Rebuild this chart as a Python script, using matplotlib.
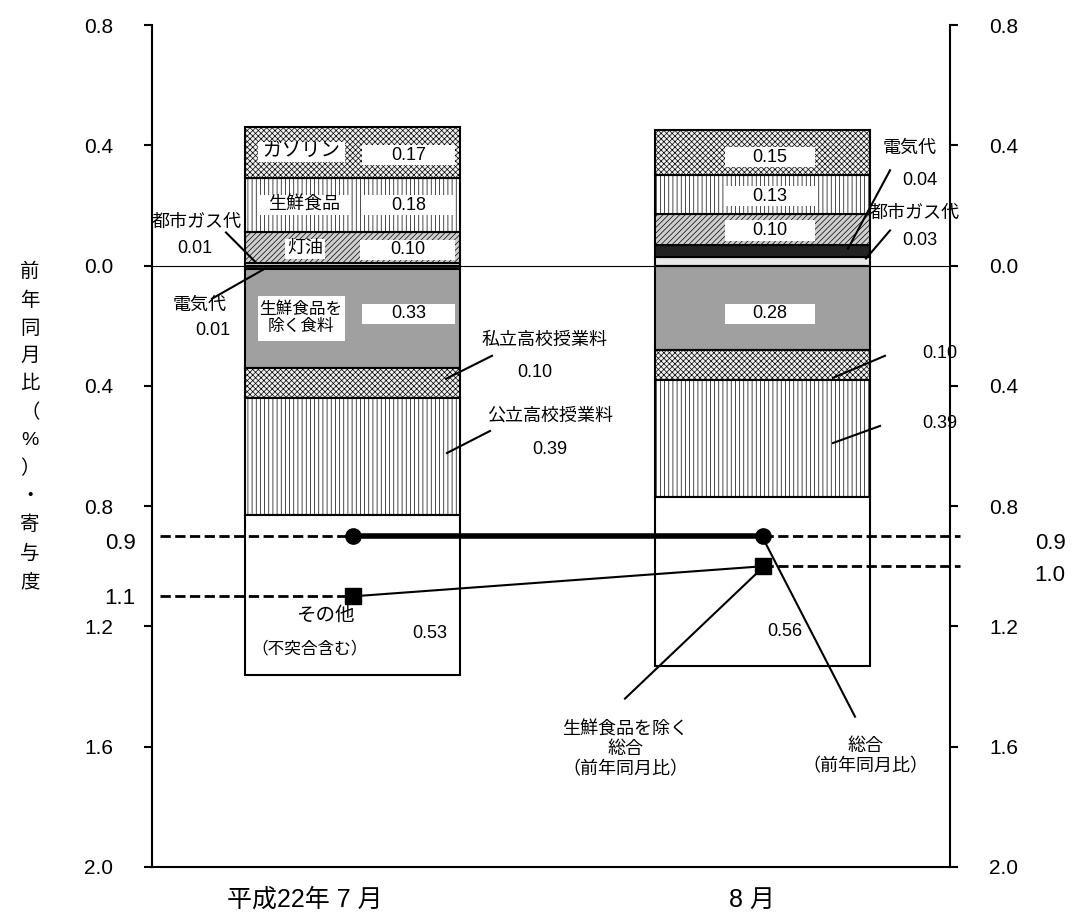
import matplotlib
matplotlib.use("Agg")
import matplotlib.pyplot as plt

plt.rcParams['font.family'] = ['Liberation Sans', 'Noto Sans CJK JP', 'DejaVu Sans']
plt.rcParams['hatch.linewidth'] = 0.5

periods = ["平成22年 7 月", "8 月"]
# stacked components (positive up, negative down), from zero outward
pos_names = ["都市ガス代", "電気代", "灯油", "生鮮食品", "ガソリン"]
pos_m7 = [0.01, 0.00, 0.10, 0.18, 0.17]
pos_m8 = [0.03, 0.04, 0.10, 0.13, 0.15]
neg_names = ["電気代", "生鮮食品を除く食料", "私立高校授業料", "公立高校授業料", "その他"]
neg_m7 = [-0.01, -0.33, -0.10, -0.39, -0.53]
neg_m8 = [0.00, -0.28, -0.10, -0.39, -0.56]
sogo = [-0.90, -0.90]
core = [-1.10, -1.00]

styles = {
    "都市ガス代": dict(color="#e8e8e8", hatch=None),
    "電気代": dict(color="#222222", hatch=None),
    "灯油": dict(color="#cfcfcf", hatch="//////"),
    "生鮮食品": dict(color="white", hatch="||||"),
    "ガソリン": dict(color="#f0f0f0", hatch="xxxxxx"),
    "生鮮食品を除く食料": dict(color="#a0a0a0", hatch=None),
    "私立高校授業料": dict(color="#f0f0f0", hatch="xxxxxx"),
    "公立高校授業料": dict(color="white", hatch="||||"),
    "その他": dict(color="white", hatch=None),
}

fig = plt.figure(figsize=(10.74, 9.23), dpi=100)
ax = fig.add_axes([152/1074, 1-867/923, 798/1074, (867-25)/923])
ax.set_xlim(152, 950)
ax.set_ylim(-2.0, 0.8)

def Y(py):
    return (265 - py) / 300.0

centers = [352.5, 762.5]
W = 215
for xc, pv, nv in zip(centers, [pos_m7, pos_m8], [neg_m7, neg_m8]):
    b = 0
    for n, v in zip(pos_names, pv):
        if v:
            st = styles[n]
            ax.bar(xc, v, W, bottom=b, color=st["color"], hatch=st["hatch"], edgecolor="black", linewidth=1.5)
        b += v
    b = 0
    for n, v in zip(neg_names, nv):
        if v:
            st = styles[n]
            ax.bar(xc, v, W, bottom=b, color=st["color"], hatch=st["hatch"], edgecolor="black", linewidth=1.5)
        b += v

ax.axhline(0, color="black", lw=0.8, zorder=1)
ax.plot(centers, sogo, color="black", lw=4, marker="o", ms=11, zorder=5)
ax.plot(centers, core, color="black", lw=1.5, marker="s", ms=11, zorder=5)
ax.plot([160, centers[0]], [sogo[0]]*2, 'k--', lw=2, zorder=4)
ax.plot([160, centers[0]], [core[0]]*2, 'k--', lw=2, zorder=4)
ax.plot([centers[1], 960], [sogo[1]]*2, 'k--', lw=2, zorder=4, clip_on=False)
ax.plot([centers[1], 960], [core[1]]*2, 'k--', lw=2, zorder=4, clip_on=False)

ticks = [0.8, 0.4, 0.0, -0.4, -0.8, -1.2, -1.6, -2.0]
ax.set_yticks(ticks)
ax.set_yticklabels([f"{abs(t):.1f}" for t in ticks], fontsize=15)
ax.tick_params(axis='y', left=True, right=True, labelleft=True, labelright=True, length=6, width=1.5, pad=22)
ax.set_xticks([])
for s in ax.spines.values():
    s.set_linewidth(1.5)
ax.spines['top'].set_visible(False)

fs = 13
def T(px, py, s, size=fs, ha="center"):
    ax.text(px, Y(py), s, fontsize=size, ha=ha, va="center", zorder=6, clip_on=False)

def L(x1, y1, x2, y2, lw=1.5):
    ax.plot([x1, x2], [Y(y1), Y(y2)], color="black", lw=lw, zorder=6, clip_on=False)

def BOX(x1, x2, py, s, h=20, size=fs):
    ax.add_patch(plt.Rectangle((x1, Y(py + h/2)), x2 - x1, h/300, facecolor="white", edgecolor="none", zorder=5))
    ax.text((x1+x2)/2, Y(py), s, fontsize=size, ha="center", va="center", zorder=6)

# bar 1 labels
BOX(258, 345, 152, "ガソリン", size=14)
BOX(362, 455, 155, "0.17")
BOX(258, 350, 205, "生鮮食品")
BOX(362, 455, 205, "0.18")
BOX(285, 325, 248, "灯油")
BOX(360, 455, 249, "0.10")
ax.add_patch(plt.Rectangle((258, Y(340)), 87, 45/300, facecolor="white", edgecolor="none", zorder=5))
T(301, 317, "生鮮食品を\n除く食料", size=12)
BOX(362, 455, 313, "0.33")
T(197, 222, "都市ガス代")
T(195, 248, "0.01")
L(226, 232, 256, 262)
T(200, 305, "電気代")
T(213, 330, "0.01")
L(212, 298, 265, 268)
T(545, 340, "私立高校授業料")
T(535, 372, "0.10")
L(446, 378, 492, 355)
T(550, 415, "公立高校授業料")
T(550, 448, "0.39")
L(447, 452, 490, 430)
T(325, 615, "その他", size=14)
T(310, 647, "（不突合含む）", size=12)
T(430, 632, "0.53")

# bar 2 labels
BOX(725, 815, 157, "0.15")
BOX(725, 815, 196, "0.13")
BOX(725, 815, 230, "0.10")
BOX(725, 815, 313, "0.28")
T(910, 148, "電気代")
T(920, 180, "0.04")
L(848, 248, 890, 170)
T(915, 213, "都市ガス代")
T(920, 240, "0.03")
L(866, 258, 890, 230)
T(940, 353, "0.10")
L(833, 377, 885, 355)
T(940, 423, "0.39")
L(833, 442, 880, 425)
T(785, 630, "0.56")
T(625, 748, "生鮮食品を除く\n総合\n（前年同月比）")
L(625, 697, 763, 566)
T(865, 755, "総合\n（前年同月比）")
L(855, 715, 763, 537)

# extra labels
T(120, 542, "0.9", size=16)
T(120, 597, "1.1", size=16)
T(1050, 542, "0.9", size=16)
T(1050, 574, "1.0", size=16)

fig.text(305/1074, 1-900/923, periods[0], fontsize=18, ha="center", va="center")
fig.text(752/1074, 1-900/923, periods[1], fontsize=18, ha="center", va="center")
fig.text(30/1074, 1-427/923, "\n".join("前年同月比（%）・寄与度"), fontsize=14, ha="center", va="center", linespacing=1.75)

fig.savefig("out.png", dpi=100)
